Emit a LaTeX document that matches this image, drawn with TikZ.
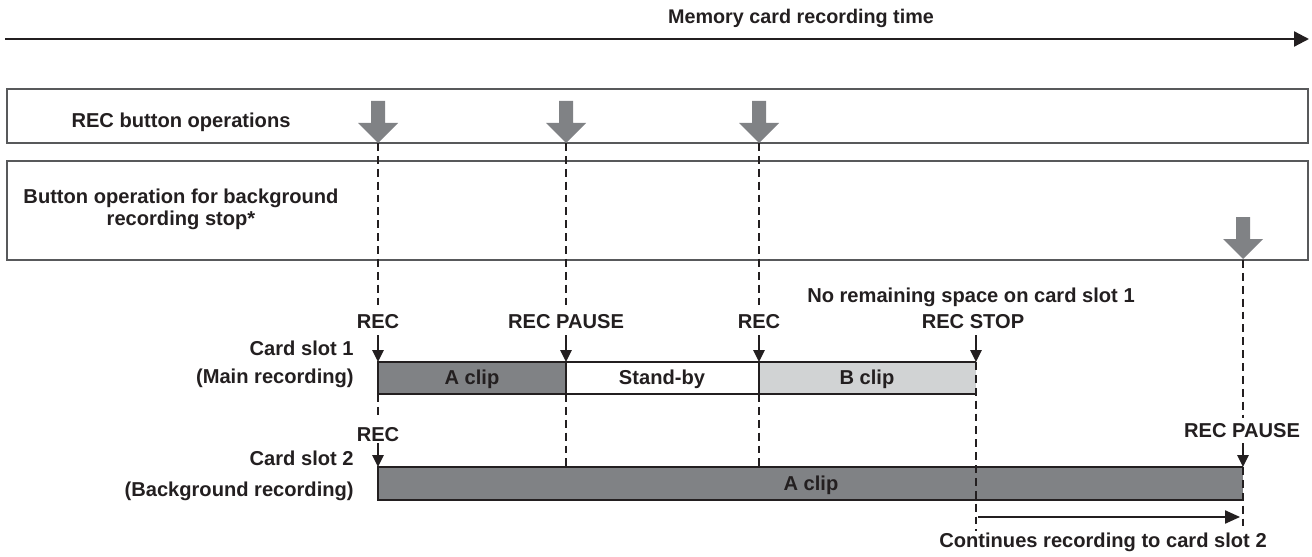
\documentclass[tikz,border=0pt]{standalone}
\usepackage{fontspec}
\setmainfont{Liberation Sans}
\usetikzlibrary{arrows.meta}
\definecolor{ink}{HTML}{231F20}
\definecolor{darkclip}{HTML}{808285}
\definecolor{lightclip}{HTML}{D1D3D4}
\definecolor{boxline}{HTML}{58595B}
\newcommand\bigdownarrow[2]{\fill[darkclip] (#1-7,#2-42) -- (#1+7,#2-42) -- (#1+7,#2-20) -- (#1+20,#2-20) -- (#1,#2) -- (#1-20,#2-20) -- (#1-7,#2-20) -- cycle;}
\begin{document}
\begin{tikzpicture}[x=0.5669pt,y=-0.5669pt,
  lbl/.style={font=\bfseries\fontsize{11.4}{12.6}\selectfont, text=ink, inner sep=0pt, anchor=base},
  dashv/.style={draw=ink, line width=1.6pt, dash pattern=on 4.5pt off 2.8pt},
  ptr/.style={draw=ink, line width=0.85pt, -{Triangle[length=6.8pt,width=6.5pt]}},
  longptr/.style={draw=ink, line width=0.85pt, -{Triangle[length=8.5pt,width=7.5pt]}},
  barline/.style={draw=ink, line width=1.4pt},
  panel/.style={draw=boxline, line width=0.75pt},
  ]
\useasboundingbox (0,0) rectangle (1312,557);

% title and time axis
\node[lbl, font=\bfseries\fontsize{11.2}{13}\selectfont] (title) at (801,24) {Memory card recording time};
\coordinate (t0) at (5,39);
\coordinate (t1) at (1309,39);
\draw[line width=1.3pt, draw=ink, -{Triangle[length=8.5pt,width=8.5pt]}] (t0) -- (t1);

% panels
\draw[panel] (7,89) rectangle (1308,143);
\draw[panel] (7,161) rectangle (1308,260);
\node[lbl] (recops) at (181,127) {REC button operations};
\node[lbl, anchor=center, align=center] (bgstop) at (181,209) {Button operation for background\\recording stop*};

% big gray arrows
\bigdownarrow{378}{143}
\bigdownarrow{566}{143}
\bigdownarrow{759}{143}
\bigdownarrow{1243}{259}

% bars
\fill[darkclip] (378,362) rectangle (566,394);
\fill[white] (566,362) rectangle (759,394);
\fill[lightclip] (759,362) rectangle (976,394);
\fill[darkclip] (378,467) rectangle (1243,500);

% dashed guide lines
\coordinate (d1a) at (378,143); \coordinate (d1b) at (378,305);
\coordinate (d1c) at (378,394); \coordinate (d1d) at (378,418);
\coordinate (d2a) at (566,143); \coordinate (d2b) at (566,305);
\coordinate (d2c) at (566,394); \coordinate (d2d) at (566,467);
\coordinate (d3a) at (759,143); \coordinate (d3b) at (759,305);
\coordinate (d3c) at (759,394); \coordinate (d3d) at (759,467);
\coordinate (d4a) at (976,362); \coordinate (d4b) at (976,531);
\coordinate (d5a) at (1243,260); \coordinate (d5b) at (1243,418);
\coordinate (d5c) at (1243,467); \coordinate (d5d) at (1243,531);
\draw[dashv] (d1a) -- (d1b);
\draw[dashv] (d1c) -- (d1d);
\draw[dashv] (d2a) -- (d2b);
\draw[dashv] (d2c) -- (d2d);
\draw[dashv] (d3a) -- (d3b);
\draw[dashv] (d3c) -- (d3d);
\draw[dashv] (d4a) -- (d4b);
\draw[dashv] (d5a) -- (d5b);
\draw[dashv] (d5c) -- (d5d);

% bar outlines
\draw[barline] (976,362) -- (378,362) -- (378,394) -- (976,394);
\draw[barline] (566,362) -- (566,394);
\draw[barline] (759,362) -- (759,394);
\draw[barline] (1243,467) -- (378,467) -- (378,500) -- (1243,500);

% bar texts
\node[lbl] (aclip1) at (472,384) {A clip};
\node[lbl] (standby) at (662,384) {Stand-by};
\node[lbl] (bclip) at (867,384) {B clip};
\node[lbl] (aclip2) at (811,490) {A clip};

% event labels
\node[lbl] (nospace) at (971,302) {No remaining space on card slot 1};
\node[lbl] (rec1) at (378,328) {REC};
\node[lbl] (pause1) at (566,328) {REC PAUSE};
\node[lbl] (rec2) at (759,328) {REC};
\node[lbl] (stop) at (973,328) {REC STOP};
\node[lbl] (rec3) at (378,441) {REC};
\node[lbl] (pause2) at (1242,437) {REC PAUSE};

% small arrows
\coordinate (p1a) at (378,335); \coordinate (p1b) at (378,362);
\coordinate (p2a) at (566,335); \coordinate (p2b) at (566,362);
\coordinate (p3a) at (759,335); \coordinate (p3b) at (759,362);
\coordinate (p4a) at (976,335); \coordinate (p4b) at (976,362);
\coordinate (p5a) at (378,443); \coordinate (p5b) at (378,467);
\coordinate (p6a) at (1243,443); \coordinate (p6b) at (1243,467);
\draw[ptr] (p1a) -- (p1b);
\draw[ptr] (p2a) -- (p2b);
\draw[ptr] (p3a) -- (p3b);
\draw[ptr] (p4a) -- (p4b);
\draw[ptr] (p5a) -- (p5b);
\draw[ptr] (p6a) -- (p6b);

% slot labels
\node[lbl, anchor=base east] (slot1) at (354,355) {Card slot 1};
\node[lbl, anchor=base east] (main) at (354,383) {(Main recording)};
\node[lbl, anchor=base east] (slot2) at (354,465) {Card slot 2};
\node[lbl, anchor=base east] (bg) at (354,496) {(Background recording)};

% continues arrow
\coordinate (c0) at (978,517);
\coordinate (c1) at (1240,517);
\draw[longptr] (c0) -- (c1);
\node[lbl] (cont) at (1103,547) {Continues recording to card slot 2};
\end{tikzpicture}
\end{document}
